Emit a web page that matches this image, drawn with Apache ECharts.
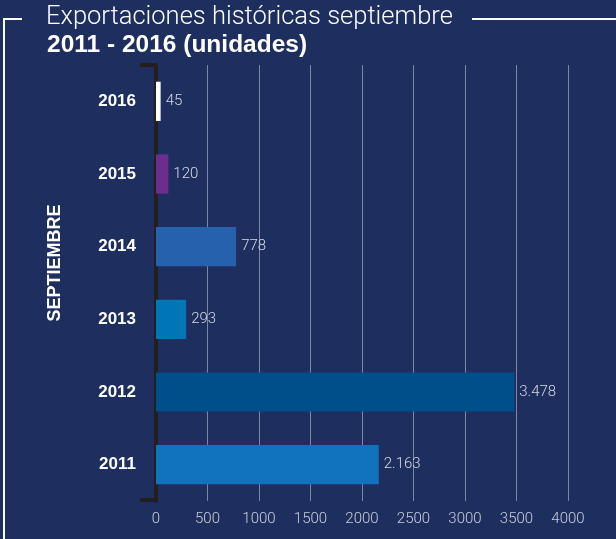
<!DOCTYPE html>
<html><head><meta charset="utf-8">
<script src="https://cdn.jsdelivr.net/npm/echarts@6/dist/echarts.min.js"></script>
<style>html,body{margin:0;padding:0;background:#1e2f5f;}#c{width:616px;height:539px;}</style>
</head><body><div id="c"></div>
<script>
const years = ['2011','2012','2013','2014','2015','2016'];
const values = [2163, 3478, 293, 778, 120, 45];
const barColors = ['#1173bd','#004f8b','#0076b6','#2561ad','#6a2f8c','#ffffff'];
const xTicks = [0,500,1000,1500,2000,2500,3000,3500,4000];

const chart = echarts.init(document.getElementById('c'));
chart.setOption({
  backgroundColor: '#1e2f5f',
  animation: false,
  grid: {left: 156, right: 48, top: 65, bottom: 38, containLabel: false},
  xAxis: {
    type: 'value', min: 0, max: 4000, interval: 500,
    axisLine: {show: false},
    axisTick: {show: false},
    splitLine: {show: true, lineStyle: {color: '#7d87a3', width: 1}},
    axisLabel: {color: '#c9cedb', fontSize: 15, fontWeight: 300, fontFamily: 'Roboto', margin: 11,
      formatter: v => xTicks.includes(v) ? String(v) : ''}
  },
  yAxis: {
    type: 'category', data: years, offset: 1,
    axisLine: {show: true, lineStyle: {color: '#231f20', width: 4}},
    axisTick: {show: false},
    axisLabel: {color: '#ffffff', fontSize: 17, fontWeight: 'bold', margin: 19,
      fontFamily: 'Liberation Sans'}
  },
  series: [{
    type: 'bar', barCategoryGap: '46%',
    data: values.map((v, i) => ({value: v, itemStyle: {color: barColors[i]}})),
    label: {show: true, position: 'right', distance: 5, color: '#d5d9e4', fontSize: 15, fontWeight: 300,
      fontFamily: 'Roboto',
      formatter: p => p.value >= 1000 ? String(p.value).replace(/\B(?=(\d{3})+(?!\d))/g, '.') : String(p.value)}
  }],
  graphic: [
    {type: 'text', left: 46, top: 5, style: {text: 'Exportaciones históricas septiembre', fill: '#ffffff', font: '300 25.5px Roboto'}},
    {type: 'text', left: 47, top: 33, style: {text: '2011 - 2016 (unidades)', fill: '#ffffff', font: 'bold 24.5px "Liberation Sans"'}},
    {type: 'text', x: 55, y: 263, rotation: Math.PI / 2,
      style: {text: 'SEPTIEMBRE', fill: '#ffffff', font: 'bold 18px "Liberation Sans"', align: 'center', verticalAlign: 'middle'}},
    {type: 'line', shape: {x1: 472, y1: 19, x2: 616, y2: 19}, style: {stroke: '#ffffff', lineWidth: 2}},
    {type: 'polyline', shape: {points: [[22, 19], [4, 19], [4, 539]]}, style: {stroke: '#ffffff', lineWidth: 2, fill: null}},
    {type: 'line', shape: {x1: 140, y1: 65, x2: 157, y2: 65}, style: {stroke: '#231f20', lineWidth: 4}},
    {type: 'line', shape: {x1: 140, y1: 500, x2: 157, y2: 500}, style: {stroke: '#231f20', lineWidth: 4}}
  ]
});
</script></body></html>
